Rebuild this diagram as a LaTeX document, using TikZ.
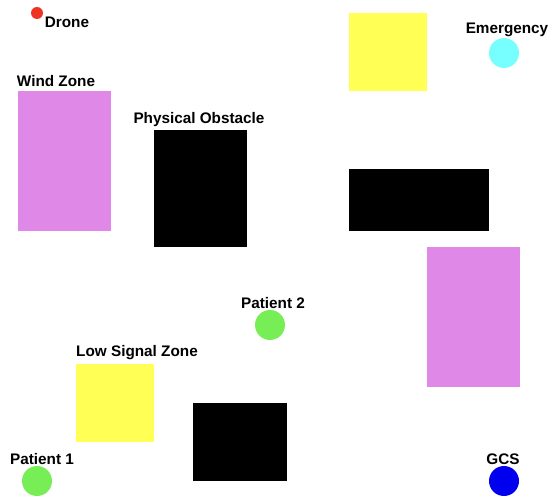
\documentclass[tikz,border=0pt]{standalone}
\usepackage{fontspec}
\setmainfont{Liberation Sans}
\usepackage{tikz}
\usetikzlibrary{positioning}
\usepackage{xcolor}
\definecolor{windcol}{RGB}{224,136,232}
\definecolor{signalcol}{RGB}{255,255,85}
\definecolor{patientcol}{RGB}{119,238,85}
\definecolor{emercol}{RGB}{119,255,255}
\definecolor{gcscol}{RGB}{0,0,238}
\definecolor{dronecol}{RGB}{238,51,34}

\begin{document}
\begin{tikzpicture}[x=1pt,y=-1pt,
  lbl/.style={font=\fontsize{15.3}{17}\selectfont\bfseries,inner sep=0pt},
  spot/.style={circle,minimum size=30pt,inner sep=0pt}]
\useasboundingbox (0,0) rectangle (550,500);
% zones and obstacles
\fill[windcol] (18,91) rectangle (111,231);
\fill[windcol] (427,247) rectangle (520,387);
\fill[signalcol] (349,13) rectangle (427,91);
\fill[signalcol] (76,364) rectangle (154,442);
\fill[black] (154,130) rectangle (247,247);
\fill[black] (349,169) rectangle (489,231);
\fill[black] (193,403) rectangle (287,481);
% points
\node[circle,fill=dronecol,minimum size=12pt,inner sep=0pt] (drone) at (37,13) {};
\node[spot,fill=emercol] (emer) at (504,53) {};
\node[spot,fill=patientcol] (p1) at (37,481) {};
\node[spot,fill=patientcol] (p2) at (270,325) {};
\node[spot,fill=gcscol] (gcs) at (504,481) {};
% labels
\node[lbl] (dronelbl) at (67,22) {Drone};
\node[lbl] (emerlbl) at (507,30) {Emergency};
\node[lbl] (windlbl) at (56,81) {Wind Zone};
\node[lbl] (obstlbl) at (199,120) {Physical Obstacle};
\node[lbl] (p2lbl) at (273,303) {Patient 2};
\node[lbl] (siglbl) at (137,353) {Low Signal Zone};
\node[lbl] (p1lbl) at (42,459) {Patient 1};
\node[lbl] (gcslbl) at (503,459) {GCS};
\end{tikzpicture}
\end{document}
